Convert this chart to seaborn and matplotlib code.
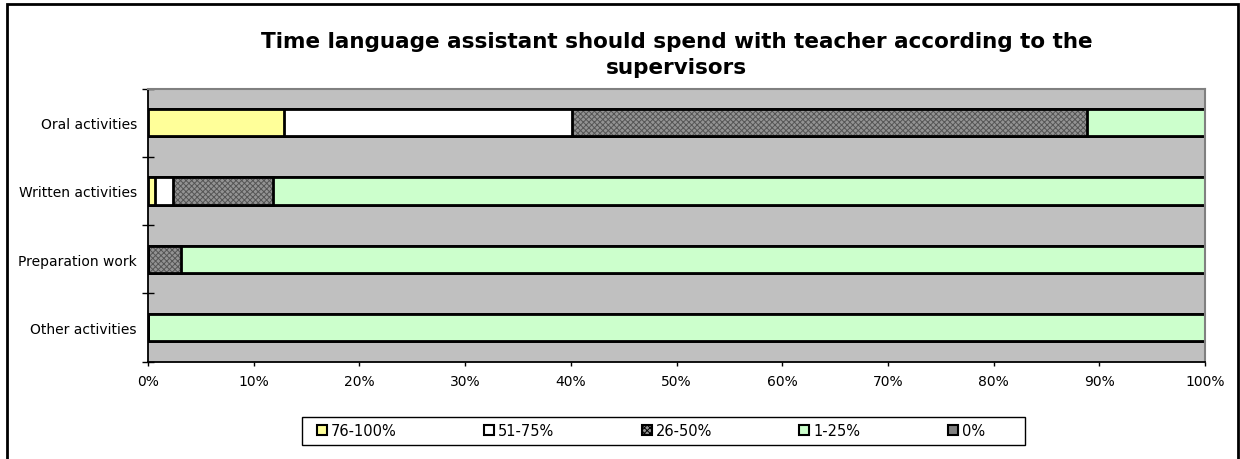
import matplotlib
matplotlib.use("Agg")
import matplotlib.pyplot as plt
from matplotlib.patches import Patch, Rectangle
from matplotlib.ticker import FixedLocator, PercentFormatter
import seaborn as sns
import pandas as pd
import numpy as np

# Activity categories (top to bottom)
categories = ["Oral activities", "Written activities", "Preparation work", "Other activities"]

# Share of supervisors per time band, in percent
series_labels = ["76-100%", "51-75%", "26-50%", "1-25%", "0%"]
v76_100 = [12.9, 0.7, 0.0, 0.0]
v51_75 = [27.2, 1.7, 0.0, 0.0]
v26_50 = [48.7, 9.4, 3.1, 0.0]
v1_25 = [11.2, 88.2, 96.9, 100.0]
v0 = [0.0, 0.0, 0.0, 0.0]

xticks = [0, 10, 20, 30, 40, 50, 60, 70, 80, 90, 100]

colors = {
    "76-100%": "#FFFF99",
    "51-75%": "#FFFFFF",
    "26-50%": "#939393",
    "1-25%": "#CCFFCC",
    "0%": "#808080",
}
hatched = "26-50%"
hatch_pattern = "xxxxxx"
hatch_ink = "#555555"

sns.set_theme(style="white")
plt.rcParams["font.family"] = ["DejaVu Sans"]
plt.rcParams["hatch.linewidth"] = 0.7
for key in ["text.color", "axes.labelcolor", "xtick.color", "ytick.color"]:
    plt.rcParams[key] = "black"

values = [v76_100, v51_75, v26_50, v1_25, v0]
cum = np.cumsum(np.array(values), axis=0)

W, H = 1240, 460
fig = plt.figure(figsize=(W / 100, H / 100), dpi=100)
ax = fig.add_axes([148 / W, 1 - 362.7 / H, (1205 - 148) / W, (362.7 - 89.5) / H])
ax.set_facecolor("#C0C0C0")

bar_w = 0.4
# Stacked bars: draw cumulative totals from the widest down so narrower ones sit on top
for k in range(len(series_labels) - 1, -1, -1):
    label = series_labels[k]
    df = pd.DataFrame({"cat": categories, "end": cum[k]})
    if label == hatched:
        sns.barplot(data=df, x="end", y="cat", orient="h", color=colors[label],
                    saturation=1, width=bar_w, errorbar=None, ax=ax,
                    edgecolor=hatch_ink, linewidth=0, hatch=hatch_pattern)
        n0 = len(ax.patches)
        sns.barplot(data=df, x="end", y="cat", orient="h", color=colors[label],
                    saturation=1, width=bar_w, errorbar=None, ax=ax,
                    edgecolor="black", linewidth=2)
        for p in ax.patches[n0:]:
            p.set_facecolor("none")
    else:
        sns.barplot(data=df, x="end", y="cat", orient="h", color=colors[label],
                    saturation=1, width=bar_w, errorbar=None, ax=ax,
                    edgecolor="black", linewidth=2)

ax.set_xlim(0, 100)
ax.set_ylim(3.5, -0.5)
ax.set_xticks(xticks)
ax.xaxis.set_major_formatter(PercentFormatter(decimals=0))
ax.set_xlabel("")
ax.set_ylabel("")

ax.yaxis.set_minor_locator(FixedLocator([-0.5, 0.5, 1.5, 2.5, 3.5]))
ax.tick_params(axis="y", which="major", length=0, pad=8, labelsize=10)
ax.tick_params(axis="y", which="minor", left=True, direction="inout", length=9, width=1)
ax.tick_params(axis="x", which="major", bottom=True, direction="out", length=3, width=1,
               pad=6, labelsize=10)

for side in ["left", "bottom"]:
    ax.spines[side].set_color("black")
    ax.spines[side].set_linewidth(1.3)
for side in ["top", "right"]:
    ax.spines[side].set_color("#808080")
    ax.spines[side].set_linewidth(1.5)

ax.set_title("Time language assistant should spend with teacher according to the\nsupervisors",
             fontsize=15.5, fontweight="bold", pad=11, linespacing=1.38)

handles = []
for label in series_labels:
    if label == hatched:
        h = Patch(facecolor=colors[label], edgecolor="black", linewidth=1.5, hatch=hatch_pattern)
    else:
        h = Patch(facecolor=colors[label], edgecolor="black", linewidth=1.5)
    handles.append(h)
leg = fig.legend(handles, series_labels, loc="center left", bbox_to_anchor=(317 / W, 1 - 432 / H),
                 ncol=5, frameon=False, fontsize=10.5,
                 handlelength=0.68, handleheight=0.68, handletextpad=0.27, columnspacing=6.0,
                 borderpad=0, borderaxespad=0)

# Legend frame, wider than its entries
fig.patches.append(Rectangle((302 / W, 1 - 446 / H), (1025 - 302) / W, 28 / H,
                             transform=fig.transFigure, fill=False, edgecolor="black",
                             linewidth=1.0, zorder=5))

# Outer chart frame
fig.patches.append(Rectangle((7 / W, -0.02), 1231 / W, 1 - 5 / H + 0.02,
                             transform=fig.transFigure, fill=False, edgecolor="black",
                             linewidth=2, zorder=10))

fig.savefig("out.png", dpi=100, facecolor="white")
